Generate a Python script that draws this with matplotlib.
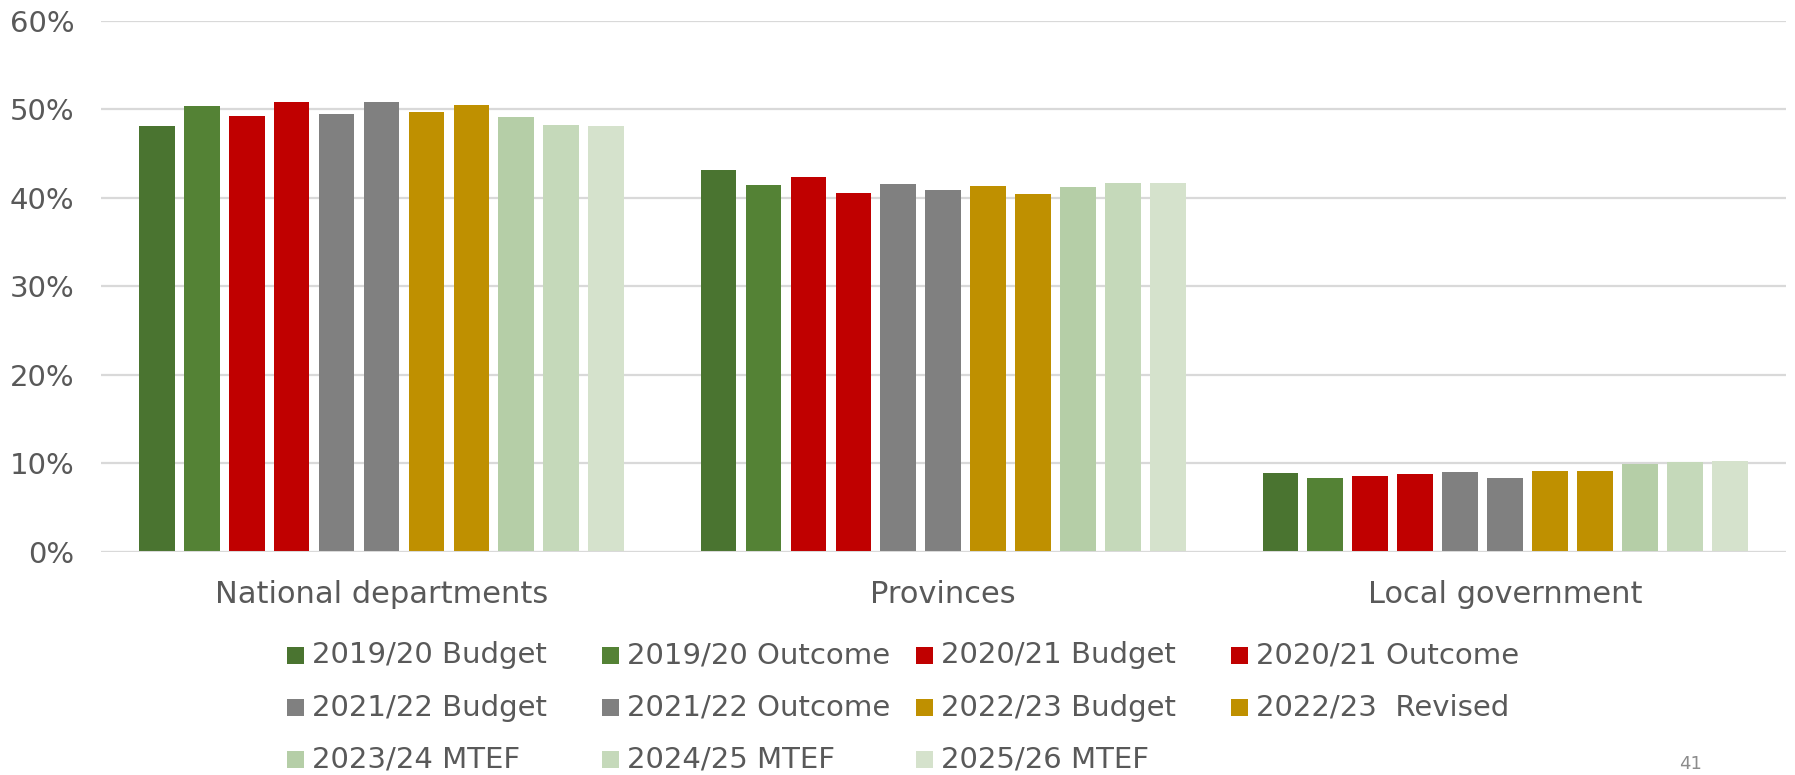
import matplotlib
matplotlib.use("Agg")
import matplotlib.pyplot as plt
import numpy as np
from matplotlib.patches import Rectangle
from matplotlib.ticker import FuncFormatter

categories = ["National departments", "Provinces", "Local government"]
series_labels = ["2019/20 Budget", "2019/20 Outcome", "2020/21 Budget", "2020/21 Outcome",
                 "2021/22 Budget", "2021/22 Outcome", "2022/23 Budget", "2022/23  Revised",
                 "2023/24 MTEF", "2024/25 MTEF", "2025/26 MTEF"]
# shares (%) per series: [National, Provinces, Local]
s2019_budget = [48.1, 43.1, 8.9]
s2019_outcome = [50.4, 41.4, 8.3]
s2020_budget = [49.2, 42.3, 8.6]
s2020_outcome = [50.8, 40.5, 8.8]
s2021_budget = [49.5, 41.6, 9.0]
s2021_outcome = [50.8, 40.9, 8.4]
s2022_budget = [49.7, 41.3, 9.1]
s2022_revised = [50.5, 40.4, 9.1]
s2023_mtef = [49.1, 41.2, 9.9]
s2024_mtef = [48.2, 41.7, 10.2]
s2025_mtef = [48.1, 41.7, 10.3]
series_values = [s2019_budget, s2019_outcome, s2020_budget, s2020_outcome,
                 s2021_budget, s2021_outcome, s2022_budget, s2022_revised,
                 s2023_mtef, s2024_mtef, s2025_mtef]
yticks = [0, 10, 20, 30, 40, 50, 60]

colors = ["#4A7430", "#548235", "#C00000", "#C00000", "#808080", "#808080",
          "#BF9000", "#BF9000", "#B5CEA7", "#C5D9BA", "#D5E2CC"]
text_color = "#595959"
W, H = 1795, 775

fig = plt.figure(figsize=(W / 100, H / 100), dpi=100)
ax = fig.add_axes([100.6 / W, 1 - 552 / H, (1786 - 100.6) / W, (552 - 20.6) / H])

x = np.arange(len(categories))
pitch = 0.080
width = 0.0636
n = len(series_values)
for i, vals in enumerate(series_values):
    ax.bar(x + (i - (n - 1) / 2) * pitch, vals, width=width, color=colors[i],
           label=series_labels[i], zorder=3, linewidth=0)

ax.set_xlim(-0.5, len(categories) - 0.5)
ax.set_ylim(0, 60)
ax.set_yticks(yticks)
ax.yaxis.set_major_formatter(FuncFormatter(lambda v, p: f"{v:.0f}%"))
ax.grid(axis="y", color="#D9D9D9", linewidth=1.6, zorder=0)
ax.set_axisbelow(True)
for s in ax.spines.values():
    s.set_visible(False)
ax.axhline(0, color="#D9D9D9", linewidth=2.2, zorder=4)
ax.set_xticks(x)
ax.set_xticklabels(categories)
ax.tick_params(axis="both", length=0, colors=text_color)
ax.tick_params(axis="y", labelsize=21, pad=19)
ax.tick_params(axis="x", labelsize=22, pad=20)

# legend laid out row by row, 4 columns (as in the reference)
x0, dx = 287, 314.6
rows_y = [655, 707.5, 759]
msz = 17
for i, lab in enumerate(series_labels):
    r, c = divmod(i, 4)
    xm = x0 + c * dx
    ym = rows_y[r]
    fig.patches.append(Rectangle(((xm) / W, 1 - (ym + msz / 2) / H), msz / W, msz / H,
                                 transform=fig.transFigure, facecolor=colors[i],
                                 edgecolor="none"))
    fig.text((xm + msz + 8) / W, 1 - ym / H, lab, fontsize=21, color=text_color,
             ha="left", va="center")

fig.text(1690 / W, 1 - 764 / H, "41", fontsize=13, color="#8C8C8C", ha="center", va="center")

fig.savefig("out.png", dpi=100)
